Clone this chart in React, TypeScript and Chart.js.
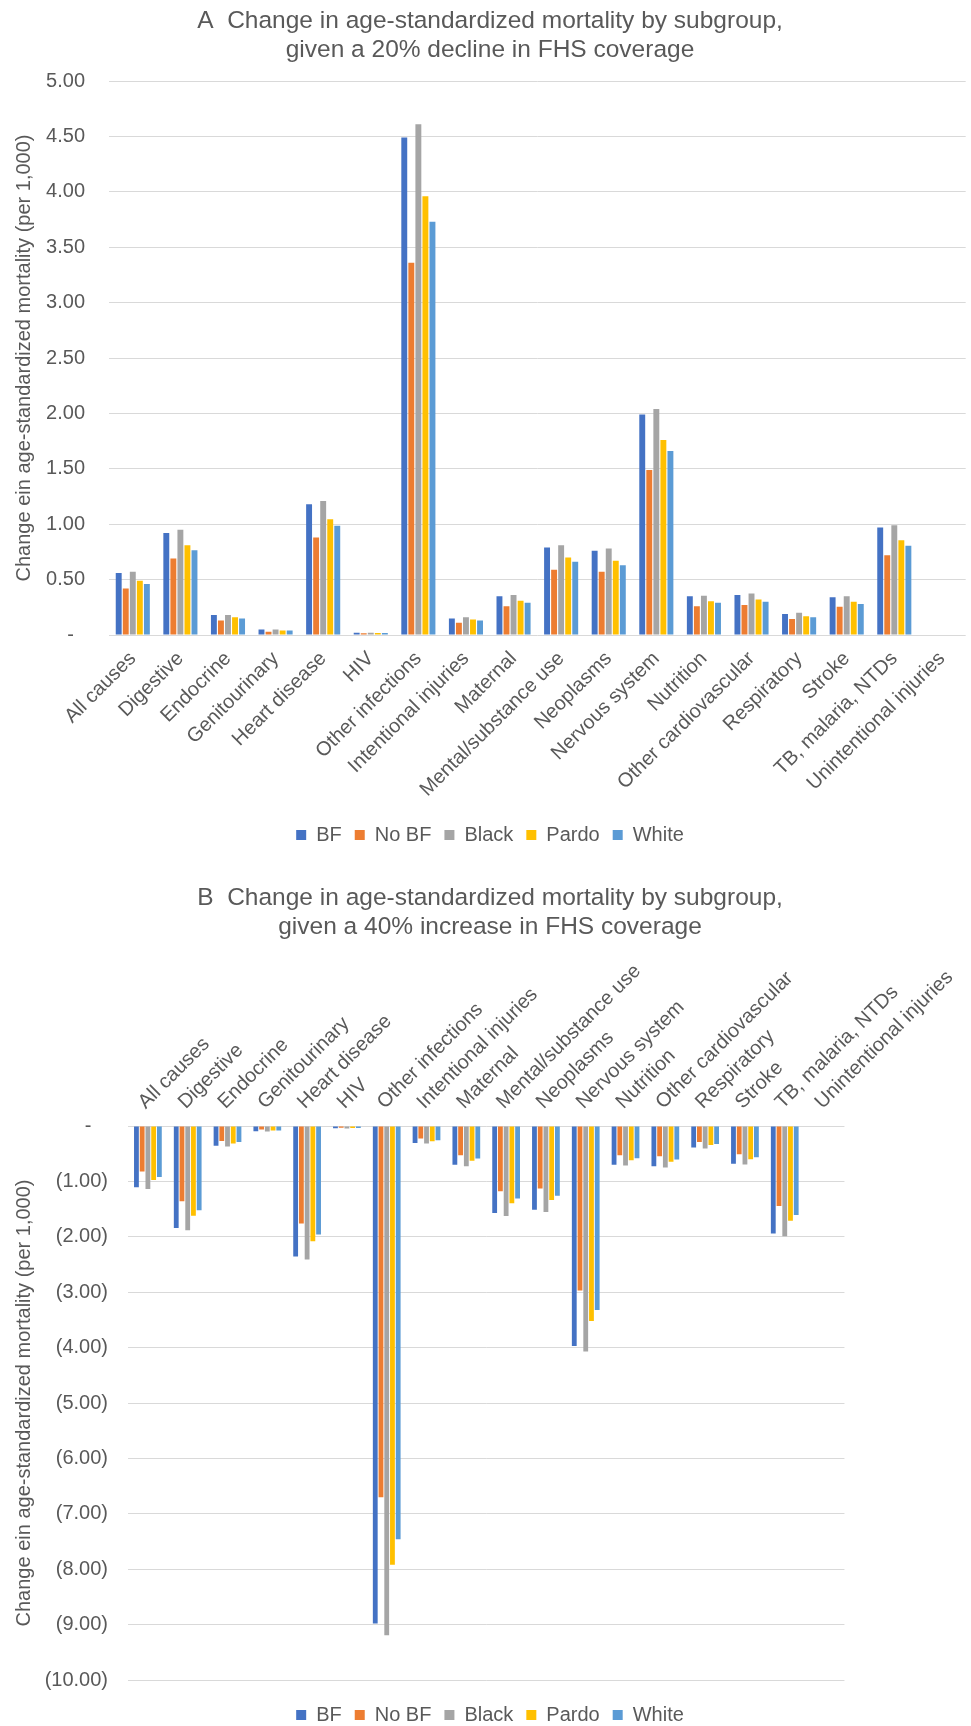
import React, { useEffect, useRef } from "react";
import { Chart, registerables } from "chart.js";

Chart.register(...registerables);

const FONT_FAMILY = "'Liberation Sans', Arial, Helvetica, sans-serif";
const TEXT_COLOR = "#595959";
const GRID_COLOR = "#d9d9d9";

const categories = [
  "All causes",
  "Digestive",
  "Endocrine",
  "Genitourinary",
  "Heart disease",
  "HIV",
  "Other infections",
  "Intentional injuries",
  "Maternal",
  "Mental/substance use",
  "Neoplasms",
  "Nervous system",
  "Nutrition",
  "Other cardiovascular",
  "Respiratory",
  "Stroke",
  "TB, malaria, NTDs",
  "Unintentional injuries",
];

const seriesNames = ["BF", "No BF", "Black", "Pardo", "White"];
const seriesColors = ["#4472C4", "#ED7D31", "#A5A5A5", "#FFC000", "#5B9BD5"];

// Panel A: 20% decline in FHS coverage
const declineBF = [0.56, 0.92, 0.18, 0.05, 1.18, 0.02, 4.49, 0.15, 0.35, 0.79, 0.76, 1.99, 0.35, 0.36, 0.19, 0.34, 0.97, 0];
const declineNoBF = [0.42, 0.69, 0.13, 0.03, 0.88, 0.015, 3.36, 0.11, 0.26, 0.59, 0.57, 1.49, 0.26, 0.27, 0.145, 0.255, 0.72, 0];
const declineBlack = [0.57, 0.95, 0.18, 0.05, 1.21, 0.02, 4.61, 0.16, 0.36, 0.81, 0.78, 2.04, 0.355, 0.375, 0.2, 0.35, 0.99, 0];
const declinePardo = [0.49, 0.81, 0.16, 0.04, 1.045, 0.018, 3.96, 0.14, 0.31, 0.7, 0.67, 1.76, 0.305, 0.32, 0.17, 0.3, 0.855, 0];
const declineWhite = [0.46, 0.765, 0.15, 0.04, 0.985, 0.017, 3.73, 0.13, 0.29, 0.66, 0.63, 1.66, 0.29, 0.3, 0.16, 0.28, 0.805, 0];

// Panel B: 40% increase in FHS coverage
const increaseBF = [-1.105, -1.84, -0.355, -0.097, -2.355, -0.04, -8.98, -0.306, -0.7, -1.57, -1.51, -3.97, -0.7, -0.725, -0.387, -0.683, -1.94, 0];
const increaseNoBF = [-0.82, -1.36, -0.27, -0.065, -1.76, -0.03, -6.7, -0.226, -0.526, -1.18, -1.13, -2.97, -0.526, -0.544, -0.29, -0.508, -1.444, 0];
const increaseBlack = [-1.137, -1.88, -0.37, -0.1, -2.41, -0.045, -9.19, -0.315, -0.725, -1.625, -1.553, -4.07, -0.713, -0.75, -0.405, -0.695, -1.99, 0];
const increasePardo = [-0.976, -1.62, -0.315, -0.08, -2.08, -0.035, -7.92, -0.274, -0.628, -1.395, -1.335, -3.52, -0.616, -0.646, -0.344, -0.598, -1.71, 0];
const increaseWhite = [-0.92, -1.52, -0.29, -0.08, -1.96, -0.035, -7.46, -0.258, -0.586, -1.31, -1.257, -3.32, -0.58, -0.604, -0.326, -0.562, -1.607, 0];

const titleA = ["A  Change in age-standardized mortality by subgroup,", "given a 20% decline in FHS coverage"];
const titleB = ["B  Change in age-standardized mortality by subgroup,", "given a 40% increase in FHS coverage"];
const yAxisTitle = "Change ein age-standardized mortality (per 1,000)";

const yMinA = 0;
const yMaxA = 5;
const yStepA = 0.5;
const yMinB = -10;
const yMaxB = 0;
const yStepB = 1;

const fmtA = (v: number) => (v === 0 ? "-  " : v.toFixed(2));
const fmtB = (v: number) => (v === 0 ? "-   " : v < 0 ? `(${Math.abs(v).toFixed(2)})` : v.toFixed(2));

const boxShift = {
  id: "boxShift",
  afterLayout(chart: any, _args: any, opts: any) {
    const lg = chart.legend;
    if (lg) {
      const dx = opts.legendDx || 0;
      const dy = opts.legendDy || 0;
      lg.left += dx;
      lg.right += dx;
      lg.top += dy;
      lg.bottom += dy;
    }
    const tb = chart.titleBlock;
    if (tb) {
      const tdx = opts.titleDx || 0;
      tb.left += tdx;
      tb.right += tdx;
    }
  },
};

type PanelSpec = {
  series: number[][];
  title: string[];
  yMin: number;
  yMax: number;
  yStep: number;
  fmt: (v: number) => string;
  xPosition: "top" | "bottom";
  yWidth: number;
  xHeight: number;
  yTickPad: number;
  xTickPad: number;
  xLabelOffset: number;
  titlePadTop: number;
  titlePadBottom: number;
  padRight: number;
  padBottom: number;
  catPct: number;
  barPct: number;
  legendDx: number;
  legendDy: number;
  titleDx: number;
};

function makeConfig(p: PanelSpec): any {
  const tickFont = { family: FONT_FAMILY, size: 20 };
  return {
    type: "bar",
    data: {
      labels: categories,
      datasets: seriesNames.map((name, i) => ({
        label: name,
        data: p.series[i],
        backgroundColor: seriesColors[i],
        borderWidth: 0,
        categoryPercentage: p.catPct,
        barPercentage: p.barPct,
      })),
    },
    options: {
      responsive: false,
      animation: false,
      layout: { padding: { left: 0, right: p.padRight, top: 0, bottom: p.padBottom } },
      plugins: {
        title: {
          display: true,
          text: p.title,
          color: TEXT_COLOR,
          font: { family: FONT_FAMILY, size: 24.5, weight: "normal", lineHeight: 29 / 24.5 },
          padding: { top: p.titlePadTop, bottom: p.titlePadBottom },
        },
        legend: {
          display: true,
          position: "bottom",
          labels: {
            color: TEXT_COLOR,
            font: { family: FONT_FAMILY, size: 20 },
            boxWidth: 10,
            boxHeight: 10,
            padding: 13,
          },
        },
        tooltip: { enabled: false },
        boxShift: { legendDx: p.legendDx, legendDy: p.legendDy, titleDx: p.titleDx },
      },
      scales: {
        x: {
          position: p.xPosition,
          grid: { display: false, drawTicks: false },
          border: { display: false },
          ticks: {
            autoSkip: false,
            minRotation: 45,
            maxRotation: 45,
            color: TEXT_COLOR,
            font: tickFont,
            padding: p.xTickPad,
            labelOffset: p.xLabelOffset,
          },
          afterFit: (s: any) => {
            s.height = p.xHeight;
          },
        },
        y: {
          min: p.yMin,
          max: p.yMax,
          grid: { color: GRID_COLOR, lineWidth: 1, drawTicks: false },
          border: { display: false },
          ticks: {
            stepSize: p.yStep,
            color: TEXT_COLOR,
            font: tickFont,
            padding: p.yTickPad,
            callback: (v: any) => p.fmt(Number(v)),
          },
          title: {
            display: true,
            text: yAxisTitle,
            color: TEXT_COLOR,
            font: { family: FONT_FAMILY, size: 20 },
            padding: { top: 12, bottom: 0 },
          },
          afterFit: (s: any) => {
            s.width = p.yWidth;
          },
        },
      },
    },
    plugins: [boxShift],
  };
}

const panelA: PanelSpec = {
  series: [declineBF, declineNoBF, declineBlack, declinePardo, declineWhite],
  title: titleA,
  yMin: yMinA,
  yMax: yMaxA,
  yStep: yStepA,
  fmt: fmtA,
  xPosition: "bottom",
  yWidth: 109,
  xHeight: 177,
  yTickPad: 24,
  xTickPad: 12,
  xLabelOffset: 0,
  titlePadTop: 6.5,
  titlePadBottom: 16.5,
  padRight: 5,
  padBottom: 0,
  catPct: 0.74,
  barPct: 0.84,
  legendDx: 7,
  legendDy: 0,
  titleDx: 7,
};

const panelB: PanelSpec = {
  series: [increaseBF, increaseNoBF, increaseBlack, increasePardo, increaseWhite],
  title: titleB,
  yMin: yMinB,
  yMax: yMaxB,
  yStep: yStepB,
  fmt: fmtB,
  xPosition: "top",
  yWidth: 128,
  xHeight: 184.5,
  yTickPad: 20,
  xTickPad: 12,
  xLabelOffset: 11,
  titlePadTop: 15.5,
  titlePadBottom: 0,
  padRight: 114,
  padBottom: 15,
  catPct: 0.72,
  barPct: 0.84,
  legendDx: 61.5,
  legendDy: 12,
  titleDx: 61.5,
};

function Panel({ spec, top, height }: { spec: PanelSpec; top: number; height: number }) {
  const ref = useRef<HTMLCanvasElement>(null);
  useEffect(() => {
    if (!ref.current) return;
    const chart = new Chart(ref.current, makeConfig(spec));
    return () => chart.destroy();
  }, [spec]);
  return (
    <canvas
      ref={ref}
      width={971}
      height={height}
      style={{ position: "absolute", left: 0, top, width: 971, height, display: "block" }}
    />
  );
}

export default function App() {
  return (
    <div
      style={{
        position: "fixed",
        left: 0,
        top: 0,
        width: 971,
        height: 1726,
        overflow: "hidden",
        background: "#ffffff",
      }}
    >
      <Panel spec={panelA} top={0} height={855} />
      <Panel spec={panelB} top={868} height={870} />
    </div>
  );
}
